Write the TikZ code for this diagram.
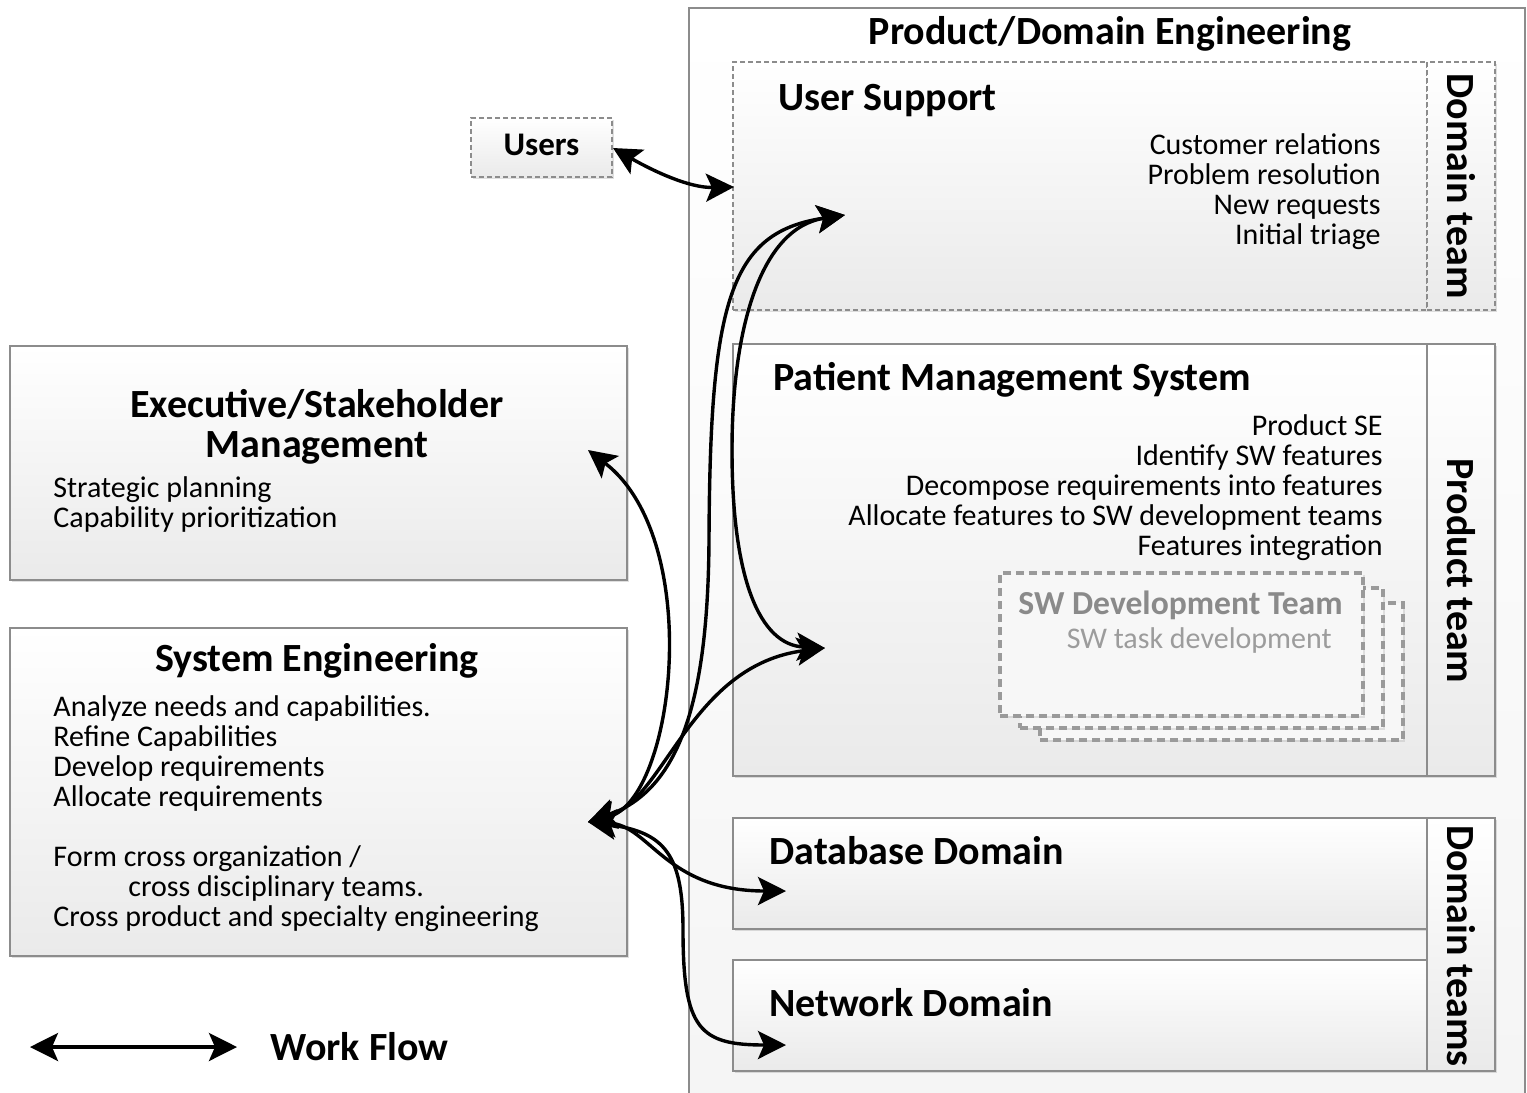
\documentclass[tikz,border=0pt]{standalone}
\usepackage{fontspec}
\setmainfont{Carlito}
\usetikzlibrary{arrows.meta,shadows,fit}
\definecolor{edge}{HTML}{8C8C8C}
\definecolor{shadeend}{HTML}{EAEAEA}
\definecolor{swgray}{HTML}{9A9A9A}
\definecolor{swtext}{HTML}{8A8A8A}
\tikzset{
  panel/.style={draw=edge, line width=1.1pt, top color=white, bottom color=shadeend,
    inner sep=0pt, drop shadow={shadow xshift=1.2pt, shadow yshift=-1.2pt, opacity=0.25}},
  dashpanel/.style={panel, dash pattern=on 2.5pt off 1.5pt, line width=0.8pt},
  swbox/.style={draw=swgray, line width=1.6pt, dash pattern=on 4pt off 2.5pt, fill=white!97!black,
    inner sep=0pt, drop shadow={shadow xshift=1pt, shadow yshift=-1pt, opacity=0.2}},
  title/.style={font=\bfseries\fontsize{20}{20}\selectfont, inner sep=0pt},
  body/.style={font=\fontsize{15}{15}\selectfont, inner sep=0pt},
  vtitle/.style={title, rotate=-90},
  wf/.style={line width=1.7pt, {Stealth[length=14pt, width=14pt, inset=3pt]}-{Stealth[length=14pt, width=14pt, inset=3pt]}},
}
\begin{document}
\begin{tikzpicture}[x=0.5pt, y=-0.5pt]
\useasboundingbox (0,0) rectangle (1527,1093);

% product / domain engineering frame
\node[draw=edge, line width=1.1pt, top color=white, bottom color=gray!8, inner sep=0pt,
      fit={(689,8)(1525,1110)}] (pde) {};
\node[title] (pde-t) at (1110,34) {Product/Domain Engineering};

% user support
\node[dashpanel, fit={(733,62)(1427,310)}] (us) {};
\node[dashpanel, fit={(1427,62)(1495,310)}] (us-side) {};
\node[title, anchor=west] (us-t) at (778,101) {User Support};
\node[body, align=right, anchor=north east] (us-l) at (1381,133)
  {Customer relations\\Problem resolution\\New requests\\Initial triage};
\node[vtitle] (us-v) at (1461,186) {Domain team};

% patient management system
\node[panel, fit={(733,344)(1427,776)}] (pms) {};
\node[panel, fit={(1427,344)(1495,776)}] (pms-side) {};
\node[title, anchor=west] (pms-t) at (773,380) {Patient Management System};
\node[body, align=right, anchor=north east] (pms-l) at (1383,414)
  {Product SE\\Identify SW features\\Decompose requirements into features\\Allocate features to SW development teams\\Features integration};
\node[vtitle] (pms-v) at (1461,571) {Product team};

% software development teams (stacked)
\node[swbox, fit={(1040,603)(1403,740)}] (sw3) {};
\node[swbox, fit={(1020,588)(1383,728)}] (sw2) {};
\node[swbox, fit={(1000,573)(1363,716)}] (sw1) {};
\node[font=\bfseries\fontsize{16.8}{18}\selectfont, text=swtext, inner sep=0pt, anchor=west] (sw-t) at (1018,605) {SW Development Team};
\node[font=\fontsize{15}{15}\selectfont, text=swtext!85, inner sep=0pt, anchor=east] (sw-l) at (1332,640) {SW task development};

% domains
\node[panel, fit={(733,818)(1427,929)}] (db) {};
\node[panel, fit={(733,960)(1427,1071)}] (net) {};
\node[panel, fit={(1427,818)(1495,1071)}] (dom-side) {};
\node[title, anchor=west] (db-t) at (769,851) {Database Domain};
\node[title, anchor=west] (net-t) at (769,1003) {Network Domain};
\node[vtitle] (dom-v) at (1461,946) {Domain teams};

% users
\node[dashpanel, fit={(471,118)(612,177)}] (users) {};
\node[font=\bfseries\fontsize{16.5}{18}\selectfont, inner sep=0pt] (users-t) at (541.5,145) {Users};

% executive / stakeholder management
\node[panel, fit={(10,346)(627,580)}] (exec) {};
\node[title, align=center] (exec-t) at (317,427) {Executive/Stakeholder\\Management};
\node[body, align=left, anchor=north west] (exec-l) at (53,476)
  {Strategic planning\\Capability prioritization};

% system engineering
\node[panel, fit={(10,628)(627,956)}] (se) {};
\node[title] (se-t) at (317,661) {System Engineering};
\node[body, align=left, anchor=north west] (se-l) at (53,695)
  {Analyze needs and capabilities.\\Refine Capabilities\\Develop requirements\\Allocate requirements\\[15pt]Form cross organization /\\\hspace*{37.5pt}cross disciplinary teams.\\Cross product and specialty engineering};

% connector end points
\coordinate (hub) at (588,822);
\coordinate (exec-in) at (588,450);
\coordinate (us-in) at (845,215);
\coordinate (pms-in) at (825,648);
\coordinate (db-in) at (786,891);
\coordinate (net-in) at (786,1045);
\coordinate (users-out) at (613,148);
\coordinate (us-edge) at (734,187);

% work flows
\draw[wf] (users-out) .. controls (655,172) and (690,188) .. (us-edge);
\draw[wf] (hub) .. controls (675,800) and (705,540) .. (exec-in);
\draw[wf] (hub) .. controls (680,790) and (708,700) .. (709,540)
               .. controls (710,300) and (730,232) .. (us-in);
\draw[wf] (us-in) .. controls (760,228) and (732,330) .. (732,450)
               .. controls (732,580) and (760,645) .. (pms-in);
\draw[wf] (hub) .. controls (665,800) and (690,665) .. (pms-in);
\draw[wf] (hub) .. controls (650,825) and (665,891) .. (db-in);
\draw[wf] (hub) .. controls (665,832) and (683,855) .. (683,930)
               .. controls (683,1030) and (700,1045) .. (net-in);

% legend
\coordinate (leg-a) at (30,1047);
\coordinate (leg-b) at (237,1047);
\draw[wf] (leg-a) -- (leg-b);
\node[title, anchor=west] (leg-t) at (270,1047) {Work Flow};
\end{tikzpicture}
\end{document}
